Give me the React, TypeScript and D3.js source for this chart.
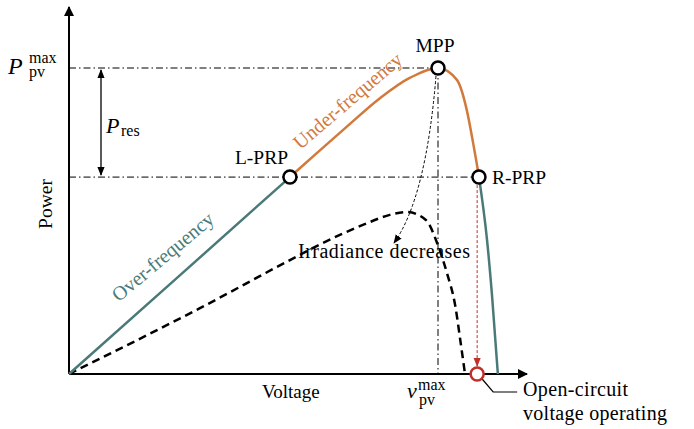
import React from "react";
import * as d3 from "d3";

// Normalised voltage (0-100) and power (0-100) values
const mainV = [0, 25, 49.1, 55.0, 62.0, 69.1, 75.8, 82.0, 86.2, 88.4, 89.8, 91.1, 92.9, 94.0, 95.3];
const mainP = [0, 27.8, 54.7, 61.3, 69.0, 76.6, 82.3, 85.0, 81.7, 73.3, 64.2, 54.7, 37.2, 21.9, 0];
const lowV = [0, 29.1, 51.3, 56.4, 65.3, 71.3, 75.1, 79.3, 81.8, 83.1, 84.0, 85.8, 87.1, 88.0];
const lowP = [0, 18.3, 33.1, 36.4, 41.4, 44.2, 45.0, 42.8, 36.4, 31.7, 28.0, 19.2, 8.1, 0];
const markerNames = ["L-PRP", "MPP", "R-PRP"];
const markerV = [49.1, 82.0, 91.1];
const markerP = [54.7, 85.0, 54.7];
const ocV = 90.7;

const W = 694;
const H = 429;
const teal = "#4a7a78";
const orange = "#d27a3c";
const red = "#c0302a";
const serif = "Liberation Serif";

export default function App() {
  const x = d3.scaleLinear().domain([0, 100]).range([69, 519]);
  const y = d3.scaleLinear().domain([0, 100]).range([374, 14]);
  const pts = mainV.map((v, i) => [v, mainP[i]] as [number, number]);
  const low = lowV.map((v, i) => [v, lowP[i]] as [number, number]);
  const line = d3
    .line<[number, number]>()
    .x((d) => x(d[0]))
    .y((d) => y(d[1]))
    .curve(d3.curveMonotoneX);
  const mpp = { v: markerV[1], p: markerP[1] };
  const lprp = { v: markerV[0], p: markerP[0] };
  const rprp = { v: markerV[2], p: markerP[2] };
  const dashDot = "7 3 1.5 3";
  const x0 = x(0);
  const y0 = y(0);
  const mainD = line(pts) || "";
  const ts = { fontFamily: serif };

  return (
    <svg width={W} height={H} style={{ position: "absolute", left: 0, top: 0, fontFamily: serif }}>
      <defs>
        <marker id="axArrow" viewBox="0 0 10 10" refX="9" refY="5" markerWidth="10" markerHeight="10" markerUnits="userSpaceOnUse" orient="auto">
          <path d="M0,0 L10,5 L0,10 z" fill="#000" />
        </marker>
        <marker id="smArrow" viewBox="0 0 10 10" refX="9" refY="5" markerWidth="9" markerHeight="9" markerUnits="userSpaceOnUse" orient="auto-start-reverse">
          <path d="M0,1 L10,5 L0,9 z" fill="#000" />
        </marker>
        <marker id="redArrow" viewBox="0 0 10 10" refX="9" refY="5" markerWidth="9" markerHeight="9" markerUnits="userSpaceOnUse" orient="auto">
          <path d="M0,1 L10,5 L0,9 z" fill={red} />
        </marker>
        <clipPath id="clipOrange">
          <rect x={x(lprp.v)} y={0} width={x(rprp.v) - x(lprp.v)} height={H} />
        </clipPath>
        <clipPath id="clipTealL">
          <rect x={0} y={0} width={x(lprp.v)} height={H} />
        </clipPath>
        <clipPath id="clipTealR">
          <rect x={x(rprp.v)} y={0} width={W - x(rprp.v)} height={H} />
        </clipPath>
      </defs>
      <rect width={W} height={H} fill="#fff" />

      {/* reference lines */}
      <line x1={x0} x2={x(mpp.v)} y1={y(mpp.p)} y2={y(mpp.p)} stroke="#000" strokeWidth={1} strokeDasharray={dashDot} />
      <line x1={x0} x2={x(rprp.v)} y1={y(rprp.p)} y2={y(rprp.p)} stroke="#000" strokeWidth={1} strokeDasharray={dashDot} />
      <line x1={x(mpp.v)} x2={x(mpp.v)} y1={y(mpp.p)} y2={y0} stroke="#000" strokeWidth={1} strokeDasharray={dashDot} />

      {/* axes */}
      <line x1={x0} y1={y0} x2={x0} y2={7} stroke="#000" strokeWidth={2} markerEnd="url(#axArrow)" />
      <line x1={x0} y1={y0} x2={527} y2={y0} stroke="#000" strokeWidth={2} markerEnd="url(#axArrow)" />

      {/* low irradiance curve */}
      <path d={line(low) || ""} fill="none" stroke="#000" strokeWidth={2.5} strokeDasharray="8 5" />

      {/* main curve */}
      <path d={mainD} fill="none" stroke={teal} strokeWidth={2.5} clipPath="url(#clipTealL)" />
      <path d={mainD} fill="none" stroke={orange} strokeWidth={2.5} clipPath="url(#clipOrange)" />
      <path d={mainD} fill="none" stroke={teal} strokeWidth={2.5} clipPath="url(#clipTealR)" />

      {/* P_res arrow */}
      <line x1={101} x2={101} y1={y(mpp.p) + 2} y2={y(rprp.p) - 2} stroke="#000" strokeWidth={1.3} markerStart="url(#smArrow)" markerEnd="url(#smArrow)" />

      {/* irradiance arrow */}
      <path d={`M${x(mpp.v) - 2},${y(mpp.p) + 8} Q${x(mpp.v) - 12},${y(mpp.p) + 130} ${394},${243}`} fill="none" stroke="#000" strokeWidth={1} strokeDasharray="3 2" markerEnd="url(#smArrow)" />

      {/* red arrow */}
      <line x1={x(ocV)} x2={x(ocV)} y1={y(rprp.p) + 8} y2={y0 - 8} stroke={red} strokeWidth={1} strokeDasharray="3 2" markerEnd="url(#redArrow)" />

      {/* callout */}
      <polyline points={`${x(ocV) + 5},${y0 + 5} ${x(ocV) + 16},${y0 + 18} ${x(ocV) + 40},${y0 + 18}`} fill="none" stroke="#000" strokeWidth={1.2} />

      {/* markers */}
      {markerV.map((v, i) => (
        <circle key={markerNames[i]} cx={x(v)} cy={y(markerP[i])} r={6.5} fill="#fff" stroke="#000" strokeWidth={2.5} />
      ))}
      <circle cx={x(ocV)} cy={y0} r={6.5} fill="#fff" stroke={red} strokeWidth={2.5} />

      {/* labels */}
      <text style={ts} x={x(mpp.v) - 3} y={y(mpp.p) - 16} fontSize={19.5} textAnchor="middle">MPP</text>
      <text style={ts} x={x(lprp.v) - 55} y={y(lprp.p) - 13} fontSize={19.5}>L-PRP</text>
      <text style={ts} x={x(rprp.v) + 13} y={y(rprp.p) + 7} fontSize={19.5}>R-PRP</text>
      <text style={ts} x={298} y={258} fontSize={20} textLength={172}>Irradiance decreases</text>
      <text style={ts} x={523} y={396} fontSize={20} textLength={105}>Open-circuit</text>
      <text style={ts} x={523} y={420} fontSize={20} textLength={144}>voltage operating</text>
      <text style={ts} x={262} y={398} fontSize={19}>Voltage</text>
      <text style={ts} transform="translate(52,204) rotate(-90)" fontSize={19.5} textAnchor="middle">Power</text>

      <text style={ts} transform="translate(167,262) rotate(-40)" fontSize={20} textAnchor="middle" fill={teal}>Over-frequency</text>
      <text style={ts} transform="translate(352,106) rotate(-40.5)" fontSize={20} textAnchor="middle" fill={orange}>Under-frequency</text>

      {/* math labels */}
      <text style={ts} x={8} y={74} fontSize={24} fontStyle="italic">P</text>
      <text style={ts} x={29} y={63} fontSize={16}>max</text>
      <text style={ts} x={29} y={77} fontSize={16}>pv</text>

      <text style={ts} x={106} y={133} fontSize={22} fontStyle="italic">P</text>
      <text style={ts} x={121} y={136} fontSize={16}>res</text>

      <text style={ts} x={407} y={398} fontSize={22} fontStyle="italic">v</text>
      <text style={ts} x={418} y={390} fontSize={16}>max</text>
      <text style={ts} x={419} y={405} fontSize={16}>pv</text>
    </svg>
  );
}
